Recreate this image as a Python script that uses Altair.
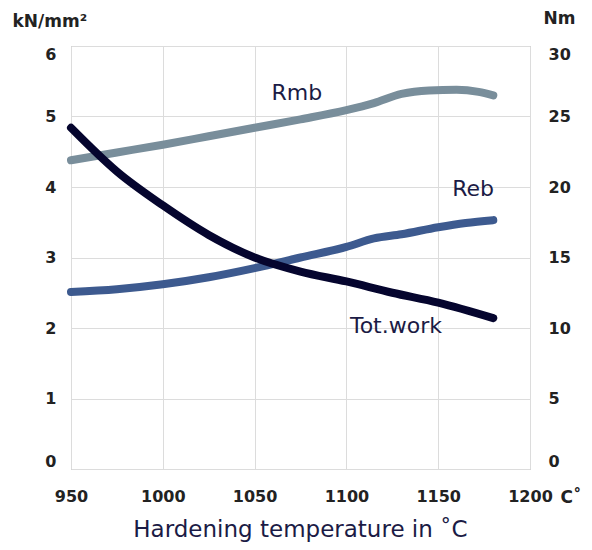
import altair as alt
import pandas as pd

# Rmb (kN/mm²)
temp_rmb = [950, 975, 1000, 1025, 1050, 1075, 1100, 1115, 1130, 1145, 1160, 1172, 1180]
rmb = [4.38, 4.49, 4.60, 4.72, 4.84, 4.96, 5.09, 5.19, 5.32, 5.37, 5.38, 5.35, 5.30]
# Reb (kN/mm²)
temp_reb = [950, 975, 1000, 1025, 1050, 1075, 1100, 1115, 1130, 1150, 1165, 1180]
reb = [2.51, 2.55, 2.62, 2.72, 2.85, 3.00, 3.15, 3.27, 3.33, 3.43, 3.49, 3.53]
# Tot.work (Nm)
temp_work = [950, 975, 1000, 1025, 1050, 1075, 1100, 1125, 1150, 1180]
work = [24.2, 21.1, 18.7, 16.6, 15.0, 14.0, 13.3, 12.5, 11.8, 10.7]

# in-chart labels
label_text = ["Rmb", "Reb", "Tot.work"]
label_temp = [1073, 1169, 1127]
label_val = [5.33, 3.97, 2.03]

x_ticks = [950, 1000, 1050, 1100, 1150, 1200]
left_ticks = [0, 1, 2, 3, 4, 5, 6]
right_ticks = [0, 5, 10, 15, 20, 25, 30]

series_names = ["Rmb", "Reb"]
series_colors = ["#798e9b", "#3d5a8f"]
work_color = "#05052e"
text_color = "#1b1b45"
tick_color = "#222222"
FONT = "DejaVu Sans"

df_left = pd.concat([
    pd.DataFrame({"temp": temp_rmb, "val": rmb, "series": "Rmb"}),
    pd.DataFrame({"temp": temp_reb, "val": reb, "series": "Reb"}),
])
df_work = pd.DataFrame({"temp": temp_work, "val": work})
df_labels = pd.DataFrame({"text": label_text, "temp": label_temp, "val": label_val})

x_enc = alt.X(
    "temp:Q",
    scale=alt.Scale(domain=[950, 1200], nice=False),
    axis=alt.Axis(
        values=x_ticks, format="d", ticks=False, domain=False,
        grid=True, gridColor="#dcdcdc", labelFlush=False,
        labelFontSize=16, labelFontWeight="bold", labelColor=tick_color, labelFont=FONT,
        labelPadding=19,
        title="C˚", titleAngle=0, titleAlign="left", titleBaseline="alphabetic",
        titleX=489, titleY=33, titleFontSize=17, titleFontWeight="bold",
        titleColor=tick_color, titleFont=FONT,
    ),
)

left_lines = alt.Chart(df_left).mark_line(
    strokeWidth=8, strokeCap="round", interpolate="monotone"
).encode(
    x=x_enc,
    y=alt.Y(
        "val:Q",
        scale=alt.Scale(domain=[0, 6], nice=False),
        axis=alt.Axis(
            values=left_ticks, format="d", ticks=False, domain=False,
            grid=True, gridColor="#dcdcdc", labelFlush=True,
            labelFontSize=16, labelFontWeight="bold", labelColor=tick_color, labelFont=FONT,
            labelPadding=15,
            title="kN/mm²", titleAngle=0, titleAlign="left", titleBaseline="alphabetic",
            titleX=-59, titleY=-20, titleFontSize=17, titleFontWeight="bold",
            titleColor=tick_color, titleFont=FONT,
        ),
    ),
    color=alt.Color(
        "series:N",
        scale=alt.Scale(domain=series_names, range=series_colors),
        legend=None,
    ),
    detail="series:N",
)

labels = alt.Chart(df_labels).mark_text(
    fontSize=22, font=FONT, color=text_color, align="center", baseline="middle"
).encode(
    x=alt.X("temp:Q"),
    y=alt.Y("val:Q"),
    text="text:N",
)

work_line = alt.Chart(df_work).mark_line(
    strokeWidth=8, strokeCap="round", interpolate="monotone", color=work_color
).encode(
    x=alt.X("temp:Q"),
    y=alt.Y(
        "val:Q",
        scale=alt.Scale(domain=[0, 30], nice=False),
        axis=alt.Axis(
            orient="right", values=right_ticks, format="d", ticks=False, domain=False,
            grid=False, labelFlush=True,
            labelFontSize=16, labelFontWeight="bold", labelColor=tick_color, labelFont=FONT,
            labelPadding=18, labelAlign="left",
            title="Nm", titleAngle=0, titleAlign="left", titleBaseline="alphabetic",
            titleX=13, titleY=-23, titleFontSize=17, titleFontWeight="bold",
            titleColor=tick_color, titleFont=FONT,
        ),
    ),
)

chart = alt.layer(
    alt.layer(left_lines, labels),
    work_line,
).resolve_scale(
    y="independent"
).properties(
    width=459,
    height=423,
    autosize=alt.AutoSizeParams(type="none"),
    padding={"left": 63, "top": 38, "right": 54, "bottom": 73},
    title=alt.TitleParams(
        "Hardening temperature in ˚C", orient="bottom", anchor="middle",
        fontSize=23, fontWeight="normal", font=FONT, color=text_color, offset=14,
    ),
).configure_view(
    stroke="#aaaaaa", strokeWidth=1
)

chart.save("out.html", embed_options={"renderer": "svg", "actions": False})
